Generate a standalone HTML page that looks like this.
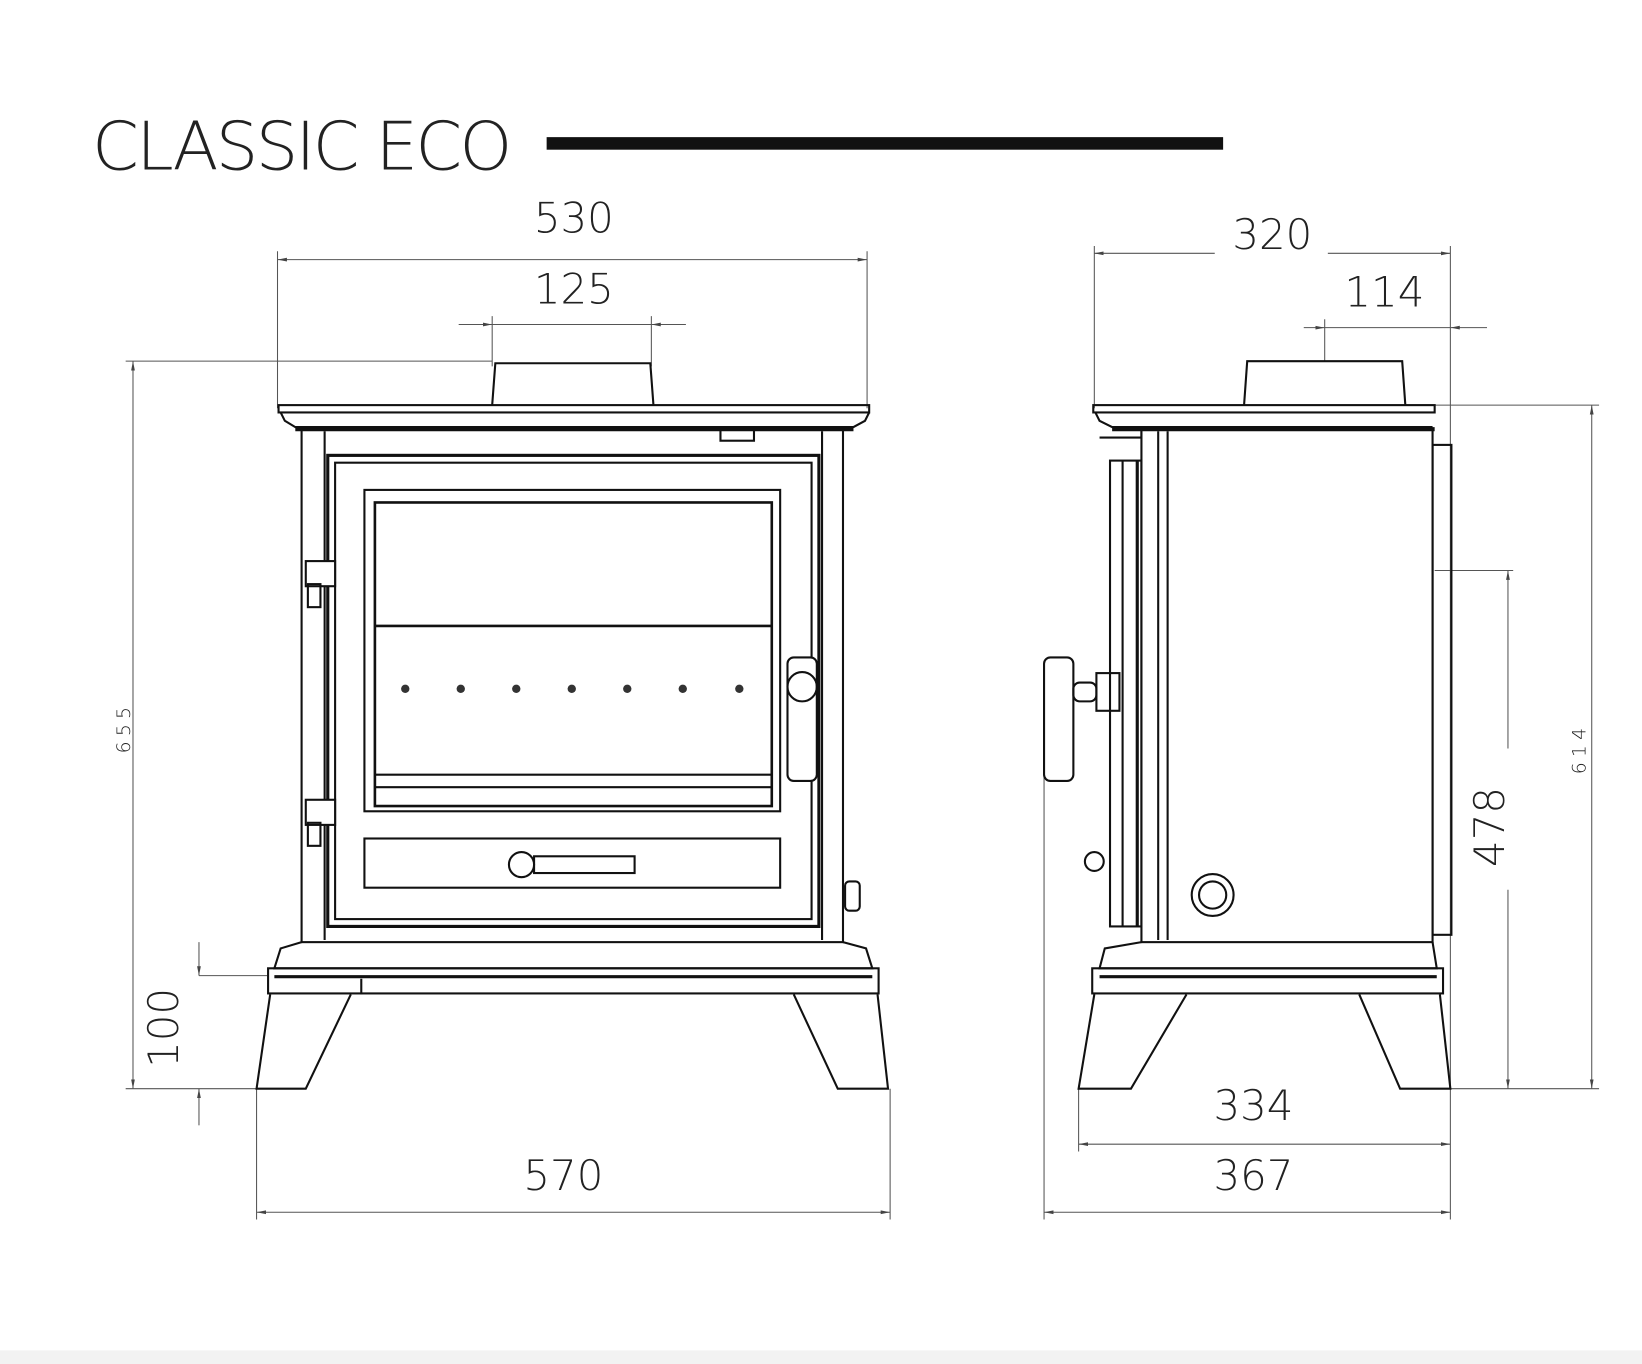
<!DOCTYPE html>
<html><head><meta charset="utf-8"><style>
html,body{margin:0;padding:0;background:#fff;}
svg{display:block;}
text{font-family:"DejaVu Sans","Liberation Sans",sans-serif;fill:#222;}
</style></head><body>
<svg width="1642" height="1364" viewBox="0 0 1568 1303" preserveAspectRatio="none" xmlns="http://www.w3.org/2000/svg">
<defs>
<marker id="a" viewBox="0 0 10 10" refX="10" refY="5" markerWidth="9" markerHeight="9" orient="auto-start-reverse"><path d="M0,3 L10,5 L0,7 z" fill="#444"/></marker>
</defs>
<rect x="0" y="1290" width="1568" height="13" fill="#f2f2f2"/>
<text x="88" y="162" font-size="64" font-weight="200" style="letter-spacing:-2.5px" fill="#111">CLASSIC ECO</text>
<rect x="522" y="131" width="646" height="12" fill="#111"/>

<g stroke="#555" stroke-width="1" fill="none">
<line x1="265" y1="248" x2="828" y2="248" marker-start="url(#a)" marker-end="url(#a)"/>
<line x1="265" y1="240" x2="265" y2="390"/><line x1="828" y1="240" x2="828" y2="390"/>
<line x1="438" y1="310" x2="470" y2="310" marker-end="url(#a)"/>
<line x1="470" y1="310" x2="622" y2="310"/>
<line x1="655" y1="310" x2="622" y2="310" marker-end="url(#a)"/>
<line x1="470" y1="302" x2="470" y2="350"/><line x1="622" y1="302" x2="622" y2="350"/>
<line x1="127" y1="345" x2="127" y2="1040" marker-start="url(#a)" marker-end="url(#a)"/>
<line x1="120" y1="345" x2="470" y2="345"/>
<line x1="120" y1="1040" x2="245" y2="1040"/>
<line x1="190" y1="900" x2="190" y2="932" marker-end="url(#a)"/>
<line x1="190" y1="1075" x2="190" y2="1040" marker-end="url(#a)"/>
<line x1="190" y1="932" x2="255" y2="932"/>
<line x1="245" y1="1158" x2="850" y2="1158" marker-start="url(#a)" marker-end="url(#a)"/>
<line x1="245" y1="1040" x2="245" y2="1165"/><line x1="850" y1="1040" x2="850" y2="1165"/>
<line x1="1045" y1="242" x2="1160" y2="242" marker-start="url(#a)"/>
<line x1="1268" y1="242" x2="1385" y2="242" marker-end="url(#a)"/>
<line x1="1045" y1="235" x2="1045" y2="390"/><line x1="1385" y1="235" x2="1385" y2="1040"/>
<line x1="1245" y1="313" x2="1265" y2="313" marker-end="url(#a)"/>
<line x1="1265" y1="313" x2="1385" y2="313"/>
<line x1="1420" y1="313" x2="1385" y2="313" marker-end="url(#a)"/>
<line x1="1265" y1="305" x2="1265" y2="345"/>
<line x1="1440" y1="545" x2="1440" y2="715" marker-start="url(#a)"/>
<line x1="1440" y1="850" x2="1440" y2="1040" marker-end="url(#a)"/>
<line x1="1370" y1="545" x2="1445" y2="545"/>
<line x1="1520" y1="387" x2="1520" y2="1040" marker-start="url(#a)" marker-end="url(#a)"/>
<line x1="1370" y1="387" x2="1527" y2="387"/>
<line x1="1385" y1="1040" x2="1527" y2="1040"/>
<line x1="1030" y1="1093" x2="1385" y2="1093" marker-start="url(#a)" marker-end="url(#a)"/>
<line x1="1030" y1="1040" x2="1030" y2="1100"/>
<line x1="997" y1="1158" x2="1385" y2="1158" marker-start="url(#a)" marker-end="url(#a)"/>
<line x1="997" y1="740" x2="997" y2="1165"/><line x1="1385" y1="1040" x2="1385" y2="1165"/>
</g>

<g font-size="40" text-anchor="middle" font-weight="300">
<text x="548" y="222">530</text>
<text x="548" y="290">125</text>
<text x="538" y="1137">570</text>
<text x="1215" y="238">320</text>
<text x="1322" y="293">114</text>
<text x="1197" y="1070">334</text>
<text x="1197" y="1137">367</text>
<text transform="translate(170,982) rotate(-90)">100</text>
<text transform="translate(1436,790) rotate(-90)">478</text>
<text transform="translate(124,695) rotate(-90)" font-size="18" letter-spacing="5">655</text>
<text transform="translate(1514,715) rotate(-90)" font-size="18" letter-spacing="5">614</text>
</g>

<g stroke="#111" stroke-width="2" fill="none">
<path d="M470,387 L473,347 L621,347 L624,387"/>
<rect x="266" y="387" width="564" height="7"/>
<path d="M268,394 L272,402 L282,408 L815,408 L826,402 L830,394"/>
<line x1="282" y1="410" x2="815" y2="410" stroke-width="4"/>
<rect x="688" y="410" width="32" height="11"/>
<rect x="288" y="410" width="517" height="490"/>
<line x1="310" y1="412" x2="310" y2="898"/><line x1="785" y1="412" x2="785" y2="898"/>
<rect x="313" y="435" width="469" height="450" stroke-width="3"/>
<rect x="320" y="442" width="455" height="436"/>
<rect x="348" y="468" width="397" height="307"/>
<rect x="358" y="480" width="379" height="290" stroke-width="2.5"/>
<line x1="358" y1="598" x2="737" y2="598" stroke-width="2.5"/>
<line x1="358" y1="740" x2="737" y2="740"/><line x1="358" y1="752" x2="737" y2="752"/>
<rect x="348" y="801" width="397" height="47"/>
<circle cx="498" cy="826" r="12"/>
<rect x="510" y="818" width="96" height="16"/>
<rect x="752" y="628" width="28" height="118" rx="6" fill="#fff"/>
<circle cx="766" cy="656" r="14"/>
<rect x="292" y="536" width="28" height="24" fill="#fff"/><rect x="294" y="558" width="12" height="22"/>
<rect x="292" y="764" width="28" height="24" fill="#fff"/><rect x="294" y="786" width="12" height="22"/>
<rect x="807" y="842" width="14" height="28" rx="4"/>
<path d="M288,900 L268,906 L262,925 L833,925 L827,906 L805,900"/>
<rect x="256" y="925" width="583" height="24"/>
<line x1="262" y1="933" x2="833" y2="933" stroke-width="3"/>
<path d="M258,950 L245,1040 L292,1040 L335,950"/>
<path d="M345,935 L345,950"/>
<path d="M758,950 L800,1040 L848,1040 L838,950"/>
<path d="M1188,387 L1191,345 L1339,345 L1342,387"/>
<rect x="1044" y="387" width="326" height="7"/>
<path d="M1046,394 L1050,402 L1062,408 L1368,408"/>
<line x1="1062" y1="410" x2="1370" y2="410" stroke-width="4"/>
<path d="M1090,410 L1090,418 L1050,418"/>
<rect x="1090" y="410" width="278" height="490"/>
<line x1="1106" y1="412" x2="1106" y2="898"/><line x1="1115" y1="412" x2="1115" y2="898"/>
<rect x="1368" y="425" width="18" height="468"/>
<rect x="1060" y="440" width="30" height="445"/>
<line x1="1072" y1="440" x2="1072" y2="885"/>
<line x1="1086" y1="440" x2="1086" y2="885" stroke-width="3"/>
<rect x="997" y="628" width="28" height="118" rx="6" fill="#fff"/>
<rect x="1025" y="652" width="22" height="18" rx="6"/>
<rect x="1047" y="643" width="22" height="36"/>
<circle cx="1045" cy="823" r="9"/>
<circle cx="1158" cy="855" r="20"/><circle cx="1158" cy="855" r="13"/>
<path d="M1090,900 L1055,906 L1050,925 L1372,925 L1368,900"/>
<rect x="1043" y="925" width="335" height="24"/>
<line x1="1050" y1="933" x2="1372" y2="933" stroke-width="3"/>
<path d="M1045,950 L1030,1040 L1080,1040 L1133,950"/>
<path d="M1298,950 L1337,1040 L1385,1040 L1375,950"/>
</g>
<g fill="#333">
<circle cx="387" cy="658" r="4"/><circle cx="440" cy="658" r="4"/><circle cx="493" cy="658" r="4"/><circle cx="546" cy="658" r="4"/><circle cx="599" cy="658" r="4"/><circle cx="652" cy="658" r="4"/><circle cx="706" cy="658" r="4"/>
</g>
</svg>
</body></html>
